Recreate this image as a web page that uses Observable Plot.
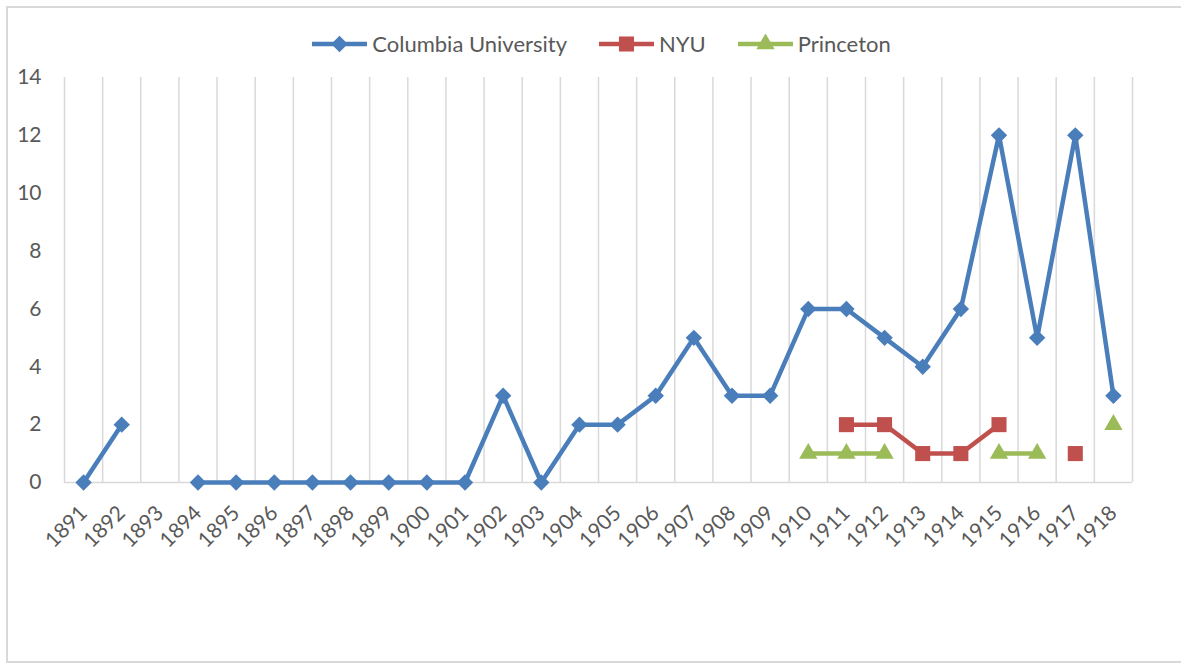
<!DOCTYPE html>
<html><head><meta charset="utf-8">
<script src="https://cdn.jsdelivr.net/npm/d3@7"></script>
<script src="https://cdn.jsdelivr.net/npm/@observablehq/plot@0.6"></script>
<style>
body{margin:0;background:#fff;font-family:Lato, sans-serif;}
#wrap{position:relative;width:1181px;height:663px;overflow:hidden;background:#fff;}
#frame{position:absolute;left:6px;top:6px;width:1200px;height:657px;border:2px solid #d9d9d9;box-sizing:border-box;}
#legend{position:absolute;top:31px;left:11px;width:1181px;display:flex;justify-content:center;gap:32px;font-size:22px;color:#595959;line-height:26px;}
#legend .item{display:flex;align-items:center;gap:5px;}
#chart{position:absolute;left:0;top:60px;}
</style></head><body>
<div id="wrap"><div id="frame"></div><div id="legend"></div><div id="chart"></div></div>
<script>
const years = [1891,1892,1893,1894,1895,1896,1897,1898,1899,1900,1901,1902,1903,1904,1905,1906,1907,1908,1909,1910,1911,1912,1913,1914,1915,1916,1917,1918];
const columbia = [0,2,null,0,0,0,0,0,0,0,0,3,0,2,2,3,5,3,3,6,6,5,4,6,12,5,12,3];
const nyu = [null,null,null,null,null,null,null,null,null,null,null,null,null,null,null,null,null,null,null,null,2,2,1,1,2,null,1,null];
const princeton = [null,null,null,null,null,null,null,null,null,null,null,null,null,null,null,null,null,null,null,1,1,1,null,null,1,1,null,2];
const seriesNames = ["Columbia University","NYU","Princeton"];
const yTicks = [0,2,4,6,8,10,12,14];

const series = [
  {name: seriesNames[0], values: columbia, color: "#4a7ebb", symbol: "diamond2", r: 7.4},
  {name: seriesNames[1], values: nyu, color: "#c0504d", symbol: "square", r: 8.5},
  {name: seriesNames[2], values: princeton, color: "#9bbb59", symbol: "triangle", r: 6.8}
];

const rows = series.flatMap(s => years.map((yr, i) => ({series: s.name, year: yr, value: s.values[i]})));
const bounds = [years[0] - 0.5, ...years.map(y => y + 0.5)];

const plot = Plot.plot({
  width: 1181, height: 540,
  marginLeft: 64, marginRight: 49, marginTop: 17, marginBottom: 118,
  x: {domain: [years[0] - 0.5, years[years.length - 1] + 0.5], label: null},
  y: {domain: [0, 14], label: null},
  style: {fontFamily: "Lato, sans-serif", fontSize: "21px", color: "#595959", background: "transparent", overflow: "visible"},
  marks: [
    Plot.ruleX(bounds, {y1: 0, y2: 14, stroke: "#d9d9d9", strokeWidth: 1.5}),
    Plot.ruleY([0], {stroke: "#d9d9d9", strokeWidth: 1.5}),
    Plot.axisY({ticks: yTicks, tickSize: 0, tickPadding: 23, fontSize: 21, label: null}),
    Plot.axisX({ticks: years, tickFormat: d => String(d), tickRotate: -45, tickSize: 0, tickPadding: 27, fontSize: 21, label: null, style: {letterSpacing: "0.6px"}}),
    ...series.map(s => Plot.line(rows.filter(d => d.series === s.name), {x: "year", y: "value", stroke: s.color, strokeWidth: 4.5})),
    ...series.map(s => Plot.dot(rows.filter(d => d.series === s.name), {x: "year", y: "value", symbol: s.symbol, fill: s.color, stroke: "none", r: s.r}))
  ]
});
document.getElementById("chart").appendChild(plot);

const legend = document.getElementById("legend");
for (const s of series) {
  const item = document.createElement("div");
  item.className = "item";
  const w = 55, h = 20;
  const svg = d3.create("svg").attr("width", w).attr("height", h);
  svg.append("line").attr("x1", 0).attr("x2", w).attr("y1", h / 2).attr("y2", h / 2).attr("stroke", s.color).attr("stroke-width", 4.5);
  const symMap = {diamond2: d3.symbolDiamond2, square: d3.symbolSquare, triangle: d3.symbolTriangle};
  svg.append("path").attr("d", d3.symbol(symMap[s.symbol], Math.PI * s.r * s.r)()).attr("transform", `translate(${w / 2},${h / 2})`).attr("fill", s.color);
  item.appendChild(svg.node());
  const span = document.createElement("span");
  span.textContent = s.name;
  item.appendChild(span);
  legend.appendChild(item);
}
</script>
</body></html>
